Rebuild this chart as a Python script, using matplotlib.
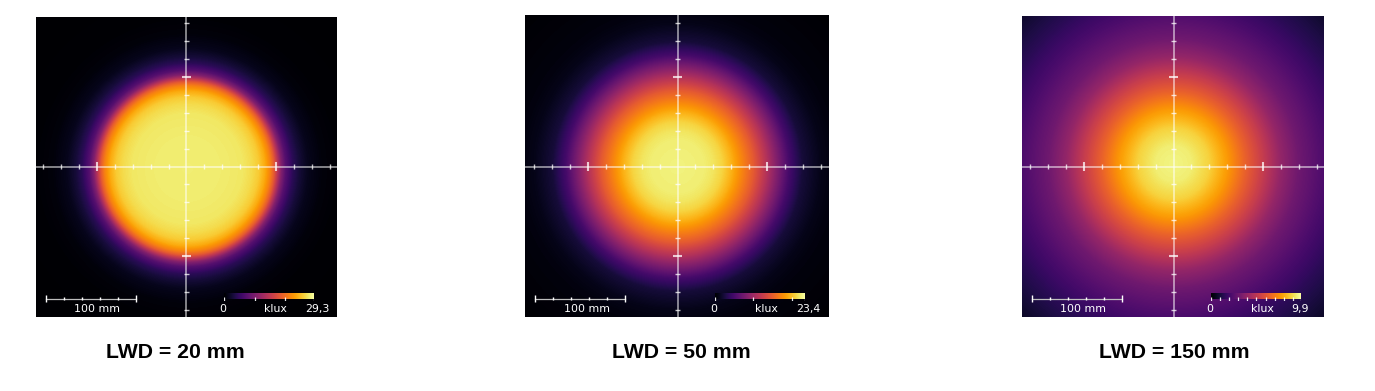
import numpy as np
import matplotlib
matplotlib.use("Agg")
import matplotlib.pyplot as plt

W, H = 1375, 391

titles = ["LWD = 20 mm", "LWD = 50 mm", "LWD = 150 mm"]
max_klux = [29.3, 23.4, 9.9]
max_labels = ["29,3", "23,4", "9,9"]
klux_ticks = [[0, 10, 20, 29.3],
              [0, 10, 20, 23.4],
              [0, 1, 2, 3, 4, 5, 6, 7, 8, 9, 9.9]]

# radial illuminance profile (radius mm, level as a fraction of max)
radius_20 = [0, 40, 62, 72, 80, 87, 93, 97, 100, 105, 110, 118, 125, 135, 150, 170, 240]
level_20 = [.95, .945, .935, .91, .875, .81, .72, .63, .53, .36, .25, .15, .10, .05, .02, .006, 0]
radius_50 = [0, 30, 40, 50, 60, 70, 85, 100, 110, 125, 140, 160, 175, 240]
level_50 = [.96, .95, .93, .895, .83, .75, .63, .48, .37, .21, .10, .045, .025, .004]
radius_150 = [0, 20, 40, 60, 80, 100, 120, 140, 170, 200, 240]
level_150 = [.965, .95, .89, .78, .65, .53, .40, .31, .225, .15, .07]

axis_ticks_mm = [-160, -140, -120, -100, -80, -60, -40, -20, 20, 40, 60, 80, 100, 120, 140, 160]
scale_ticks_mm = [0, 20, 40, 60, 80, 100]

profiles = [(radius_20, level_20), (radius_50, level_50), (radius_150, level_150)]
# pixel boxes: left, top, right, bottom, centre x, centre y
boxes = [(36, 17, 337, 317, 186.5, 166.5), (525, 15, 829, 317, 677.5, 166.5), (1022, 16, 1324, 317, 1173.5, 166.5)]
spot_offset_px = [(1, 2), (0, 0), (0, -3)]
bar_left_px = [224, 715, 1211]
scale_left_px = [46, 535, 1032]
label_x_px = [(223, 275, 317), (714, 766, 808), (1210, 1262, 1300)]
title_x = [175.5, 681.5, 1174.5]
MM_PER_PX = 100 / 89.5
FONT = "DejaVu Sans"
SMALL = 7.9

fig = plt.figure(figsize=(W / 100, H / 100), dpi=100, facecolor="white")
white = "#ffffff"

for i, (box, (r_p, v_p)) in enumerate(zip(boxes, profiles)):
    l, t, r, b, cx, cy = box
    ax = fig.add_axes([l / W, 1 - b / H, (r - l) / W, (b - t) / H])
    x0, x1 = (l - cx) * MM_PER_PX, (r - cx) * MM_PER_PX
    y0, y1 = (cy - b) * MM_PER_PX, (cy - t) * MM_PER_PX
    xs = np.linspace(x0, x1, r - l)
    ys = np.linspace(y0, y1, b - t)
    xx, yy = np.meshgrid(xs, ys)
    ox, oy = spot_offset_px[i]
    field = np.interp(np.hypot(xx - ox * MM_PER_PX, yy + oy * MM_PER_PX), r_p, v_p)
    ax.imshow(field, cmap="inferno", vmin=0, vmax=1, origin="lower",
              extent=(x0, x1, y0, y1), aspect="auto", interpolation="bilinear")

    # crosshair
    ax.plot([x0, x1], [0, 0], color=white, lw=1.2, alpha=.6, solid_capstyle="butt")
    ax.plot([0, 0], [y0, y1], color=white, lw=1.2, alpha=.6, solid_capstyle="butt")
    for m in axis_ticks_mm:
        half = 4.8 if abs(m) == 100 else 2.6
        w = 1.5 if abs(m) == 100 else 1.0
        ax.plot([m, m], [-half, half], color=white, lw=w, alpha=.75, solid_capstyle="butt")
        ax.plot([-half, half], [m, m], color=white, lw=w, alpha=.75, solid_capstyle="butt")

    # scale bar
    sb_x = (scale_left_px[i] - cx) * MM_PER_PX
    sb_y = (cy - 298.5) * MM_PER_PX
    ax.plot([sb_x, sb_x + scale_ticks_mm[-1]], [sb_y, sb_y], color="#bdbdbd", lw=.9)
    for m in scale_ticks_mm:
        half = 4.2 if m in (scale_ticks_mm[0], scale_ticks_mm[-1]) else 1.7
        ax.plot([sb_x + m, sb_x + m], [sb_y - half, sb_y + half], color=white, lw=1,
                solid_capstyle="butt")
    ax.text((scale_left_px[i] + 51.5 - cx) * MM_PER_PX, (cy - 309) * MM_PER_PX, "100 mm",
            color=white, fontsize=SMALL, family=FONT, ha="center", va="center")

    # colour bar
    cb = fig.add_axes([bar_left_px[i] / W, 1 - 301 / H, 90 / W, 8 / H])
    cb.imshow(np.linspace(0, 1, 256)[None, :], cmap="inferno", vmin=0, vmax=1,
              extent=(0, max_klux[i], 2 / 8, 1), aspect="auto")
    cb.set_xlim(0, max_klux[i])
    cb.set_ylim(0, 1)
    cb.axis("off")
    cb.vlines(klux_ticks[i], 0, .5, color=white, lw=.9, alpha=.9)
    lx = label_x_px[i]
    for xp, s in zip(lx, ["0", "klux", max_labels[i]]):
        ax.text((xp - cx) * MM_PER_PX, (cy - 309) * MM_PER_PX, s, color=white, fontsize=SMALL,
                family=FONT, ha="center", va="center")

    ax.set_xlim(x0, x1)
    ax.set_ylim(y0, y1)
    ax.axis("off")

    fig.text(title_x[i] / W, 1 - 352 / H, titles[i], fontsize=15.3, fontweight="bold",
             family="Liberation Sans", ha="center", va="center", color="black")

fig.savefig("out.png", dpi=100, facecolor="white")
